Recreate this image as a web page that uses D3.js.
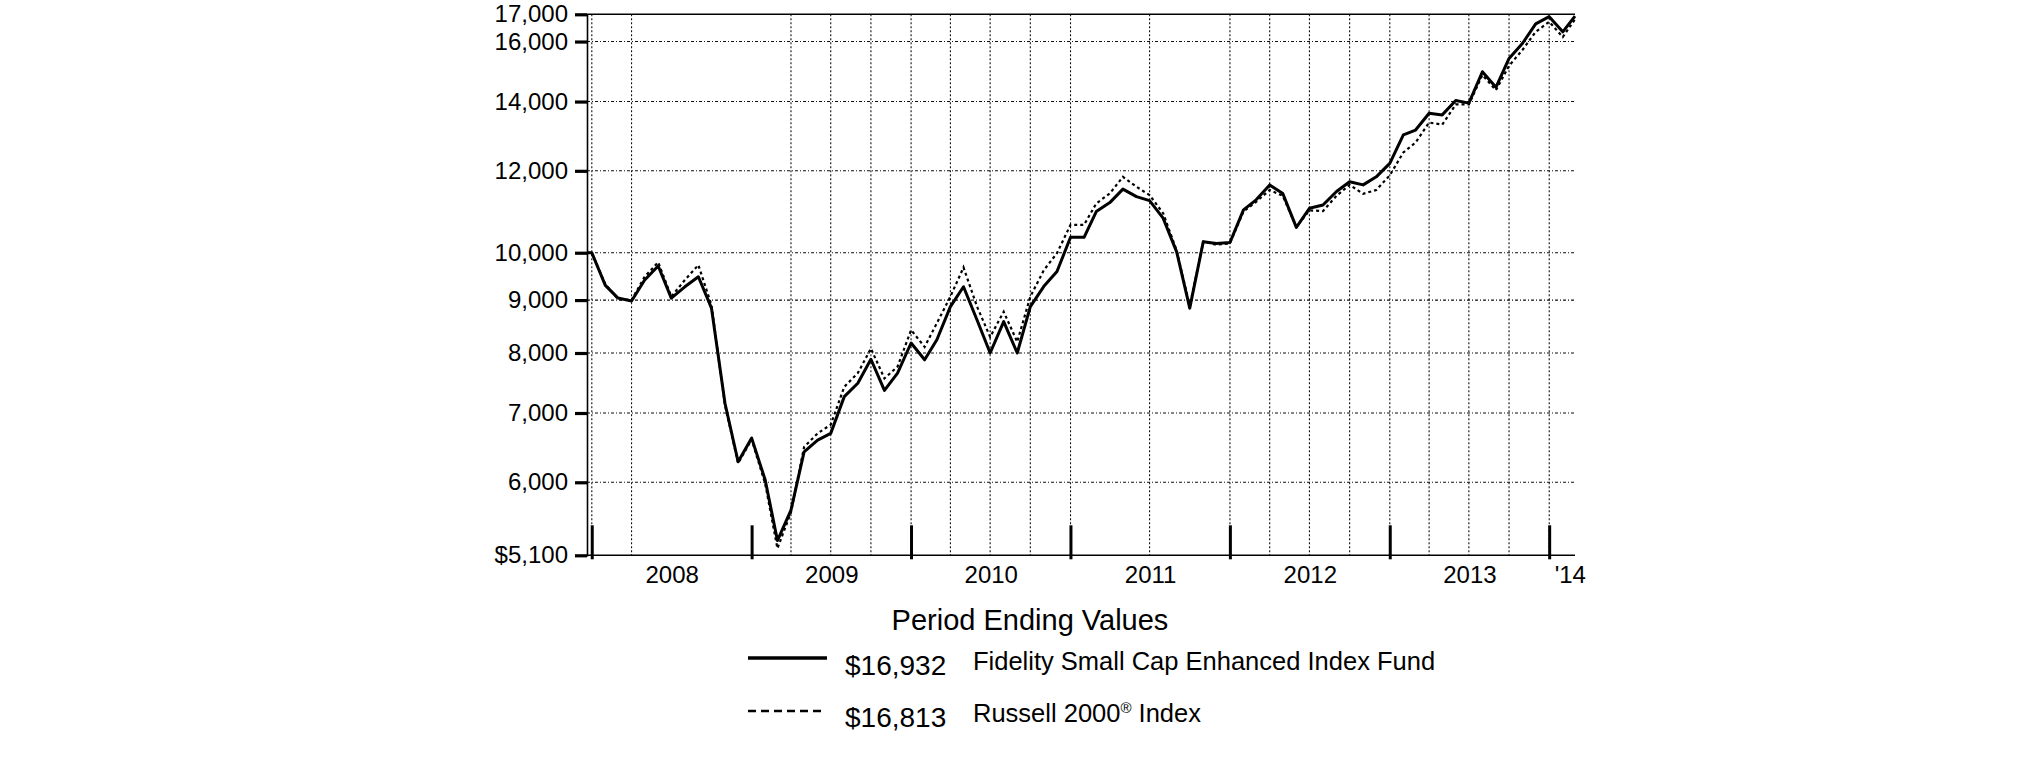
<!DOCTYPE html>
<html>
<head>
<meta charset="utf-8">
<script src="https://cdn.jsdelivr.net/npm/d3@7"></script>
<style>
  html, body { margin: 0; padding: 0; background: #fff; }
  svg { display: block; font-family: "Liberation Sans", Arial, Helvetica, sans-serif; }
</style>
</head>
<body>
<svg id="chart" width="2025" height="761"></svg>
<script>
// ---------- DATA ----------
const periods = ["2007-12-20","2007-12","2008-01","2008-02","2008-03","2008-04","2008-05","2008-06","2008-07","2008-08","2008-09","2008-10","2008-11","2008-12",
"2009-01","2009-02","2009-03","2009-04","2009-05","2009-06","2009-07","2009-08","2009-09","2009-10","2009-11","2009-12",
"2010-01","2010-02","2010-03","2010-04","2010-05","2010-06","2010-07","2010-08","2010-09","2010-10","2010-11","2010-12",
"2011-01","2011-02","2011-03","2011-04","2011-05","2011-06","2011-07","2011-08","2011-09","2011-10","2011-11","2011-12",
"2012-01","2012-02","2012-03","2012-04","2012-05","2012-06","2012-07","2012-08","2012-09","2012-10","2012-11","2012-12",
"2013-01","2013-02","2013-03","2013-04","2013-05","2013-06","2013-07","2013-08","2013-09","2013-10","2013-11","2013-12",
"2014-01","2014-02"];

const fundValues = [10000,10000,9300,9040,8980,9410,9710,9040,9270,9480,8840,7150,6280,6620,
6030,5270,5640,6420,6590,6690,7260,7480,7890,7360,7650,8180,
7880,8240,8870,9270,8610,8000,8580,8000,8870,9280,9590,10350,
10350,10960,11180,11520,11330,11230,10800,10020,8840,10250,10210,10230,
11000,11250,11630,11410,10580,11040,11120,11460,11710,11630,11840,12200,
13000,13140,13640,13590,14030,13950,14960,14450,15410,15940,16640,16910,
16350,16932];

const russellValues = [10000,10000,9320,9020,9000,9480,9790,9070,9410,9730,8900,7120,6260,6600,
5980,5180,5610,6490,6690,6820,7420,7650,8080,7560,7760,8420,
8110,8550,9070,9680,8870,8290,8770,8200,9070,9620,9990,10640,
10640,11160,11410,11840,11580,11370,10920,10050,8880,10250,10180,10210,
10960,11200,11500,11350,10590,10990,10970,11350,11630,11400,11500,11880,
12500,12780,13360,13300,13910,13910,14850,14360,15160,15710,16350,16720,
16160,16813];

const seriesNames = ["Fidelity Small Cap Enhanced Index Fund", "Russell 2000"];
const yTickValues = [17000,16000,14000,12000,10000,9000,8000,7000,6000,5100];
const yearTickDates = ["2008-01-01","2009-01-01","2010-01-01","2011-01-01","2012-01-01","2013-01-01","2014-01-01"];
const yearLabels = ["2008","2009","2010","2011","2012","2013"];
const lastYearLabel = "'14";
const gridDates = ["2007-12-31","2008-03-31","2009-03-31","2009-06-30","2009-09-30","2009-12-31",
"2010-03-31","2010-06-30","2010-09-30","2010-12-31","2011-06-30","2011-12-31",
"2012-03-31","2012-06-30","2012-09-30","2012-12-31","2013-03-31","2013-06-30","2013-09-30","2013-12-31"];
const titleText = "Period Ending Values";

// ---------- HELPERS ----------
const parseDay = d3.timeParse("%Y-%m-%d");
function periodDate(p) {
  if (p.length === 10) return parseDay(p);
  const d = d3.timeParse("%Y-%m")(p);
  return d3.timeDay.offset(d3.timeMonth.offset(d, 1), -1); // month end
}
const dates = periods.map(periodDate);
const fundData = dates.map((d, i) => ({date: d, value: fundValues[i]}));
const russellData = dates.map((d, i) => ({date: d, value: russellValues[i]}));

// ---------- LAYOUT ----------
const plotLeft = 587, plotRight = 1575, plotTop = 14.3, plotBottom = 555.3;
const svg = d3.select("#chart");

const x = d3.scaleTime().domain([dates[0], dates[dates.length - 1]]).range([plotLeft, plotRight]);
const y = d3.scaleLog().domain([5100, 17000]).range([plotBottom, plotTop]);

// horizontal gridlines
svg.append("g").selectAll("line")
  .data(yTickValues.filter(v => v !== 17000 && v !== 5100))
  .join("line")
  .attr("x1", plotLeft).attr("x2", plotRight)
  .attr("y1", d => y(d)).attr("y2", d => y(d))
  .attr("stroke", "#111").attr("stroke-width", 1.1)
  .attr("stroke-dasharray", "3,2,1,2");

// vertical gridlines
svg.append("g").selectAll("line")
  .data(gridDates.map(parseDay))
  .join("line")
  .attr("x1", d => x(d)).attr("x2", d => x(d))
  .attr("y1", plotTop).attr("y2", plotBottom)
  .attr("stroke", "#111").attr("stroke-width", 1.1)
  .attr("stroke-dasharray", "2,2");

// top border & bottom axis line
svg.append("line").attr("x1", plotLeft).attr("x2", plotRight)
  .attr("y1", plotTop).attr("y2", plotTop).attr("stroke", "#000").attr("stroke-width", 1.6);
svg.append("line").attr("x1", plotLeft).attr("x2", plotRight)
  .attr("y1", plotBottom).attr("y2", plotBottom).attr("stroke", "#000").attr("stroke-width", 1.6);

// y axis
const yAxis = d3.axisLeft(y)
  .tickValues(yTickValues)
  .tickFormat(v => (v === 5100 ? "$" : "") + d3.format(",")(v))
  .tickSize(12).tickPadding(7);
const gy = svg.append("g").attr("transform", `translate(${plotLeft},0)`).call(yAxis);
gy.select(".domain").attr("stroke", "#000").attr("stroke-width", 1.6);
gy.selectAll(".tick line").attr("stroke", "#000").attr("stroke-width", 3.2);
gy.selectAll(".tick text").attr("fill", "#000").attr("font-size", 24)
  .attr("font-family", "Liberation Sans, Arial, sans-serif");

// year ticks
svg.append("g").selectAll("line")
  .data(yearTickDates.map(parseDay))
  .join("line")
  .attr("x1", d => x(d)).attr("x2", d => x(d))
  .attr("y1", plotBottom - 30).attr("y2", plotBottom + 4)
  .attr("stroke", "#000").attr("stroke-width", 3);

// year labels centred between ticks
const yearTicks = yearTickDates.map(parseDay);
svg.append("g").selectAll("text")
  .data(yearLabels)
  .join("text")
  .attr("x", (d, i) => (x(yearTicks[i]) + x(yearTicks[i + 1])) / 2)
  .attr("y", plotBottom + 28)
  .attr("text-anchor", "middle")
  .attr("font-size", 24)
  .text(d => d);
svg.append("text")
  .attr("x", x(yearTicks[yearTicks.length - 1]) + 5)
  .attr("y", plotBottom + 28)
  .attr("font-size", 24)
  .text(lastYearLabel);

// lines
const line = d3.line().x(d => x(d.date)).y(d => y(d.value));
svg.append("path").datum(russellData)
  .attr("fill", "none").attr("stroke", "#000").attr("stroke-width", 2.2)
  .attr("stroke-dasharray", "3,3").attr("d", line);
svg.append("path").datum(fundData)
  .attr("fill", "none").attr("stroke", "#000").attr("stroke-width", 3)
  .attr("stroke-linejoin", "round").attr("d", line);

// title
svg.append("text").attr("x", 1030).attr("y", 630)
  .attr("text-anchor", "middle").attr("font-size", 29).text(titleText);

// legend
const fmt = v => "$" + d3.format(",")(v);
const legend = svg.append("g");
legend.append("line").attr("x1", 748).attr("x2", 827).attr("y1", 658).attr("y2", 658)
  .attr("stroke", "#000").attr("stroke-width", 3.5);
legend.append("text").attr("x", 845).attr("y", 675).attr("font-size", 28)
  .text(fmt(fundValues[fundValues.length - 1]));
legend.append("text").attr("x", 973).attr("y", 670).attr("font-size", 25.5)
  .text(seriesNames[0]);

legend.append("line").attr("x1", 748).attr("x2", 823).attr("y1", 711).attr("y2", 711)
  .attr("stroke", "#000").attr("stroke-width", 2.5).attr("stroke-dasharray", "8,5");
legend.append("text").attr("x", 845).attr("y", 727).attr("font-size", 28)
  .text(fmt(russellValues[russellValues.length - 1]));
const rt = legend.append("text").attr("x", 973).attr("y", 722).attr("font-size", 25.5);
rt.append("tspan").text(seriesNames[1]);
rt.append("tspan").attr("font-size", 15).attr("dy", -9).text("®");
rt.append("tspan").attr("dy", 9).text(" Index");
</script>
</body>
</html>
